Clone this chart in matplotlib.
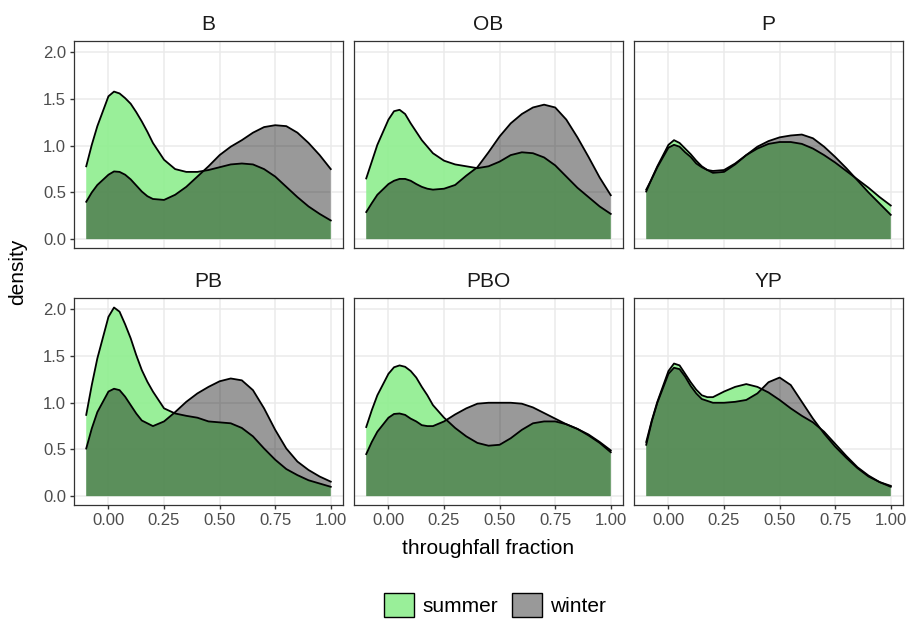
"""
Density of throughfall fraction per site, summer vs winter (facet grid 2x3)
Values read off the reference figure
"""
import matplotlib
matplotlib.use('Agg')
import matplotlib.pyplot as plt
from matplotlib.patches import Patch

plt.rcParams['font.family'] = ['Liberation Sans', 'DejaVu Sans']

# ---------------------------------------------------------
# DATA
# ---------------------------------------------------------
x_grid = [-0.1, -0.075, -0.05, 0.0, 0.025, 0.05, 0.075, 0.1, 0.125, 0.15, 0.175, 0.2,
          0.25, 0.3, 0.35, 0.4, 0.45, 0.5, 0.55, 0.6, 0.65, 0.7, 0.75, 0.8, 0.85,
          0.9, 0.95, 1.0]

sites = ['B', 'OB', 'P', 'PB', 'PBO', 'YP']
seasons = ['summer', 'winter']

b_summer = [0.78, 1.01, 1.21, 1.53, 1.58, 1.56, 1.51, 1.45, 1.36, 1.26, 1.15, 1.03,
            0.85, 0.75, 0.72, 0.72, 0.74, 0.77, 0.80, 0.81, 0.80, 0.75, 0.67, 0.56,
            0.45, 0.35, 0.27, 0.20]
b_winter = [0.40, 0.50, 0.58, 0.69, 0.725, 0.72, 0.69, 0.64, 0.575, 0.51, 0.46, 0.43,
            0.42, 0.475, 0.56, 0.67, 0.78, 0.90, 0.99, 1.06, 1.14, 1.20, 1.22, 1.21,
            1.14, 1.03, 0.90, 0.75]

ob_summer = [0.65, 0.83, 1.01, 1.28, 1.37, 1.385, 1.34, 1.24, 1.15, 1.06, 0.99, 0.92,
             0.84, 0.80, 0.78, 0.76, 0.78, 0.83, 0.90, 0.93, 0.92, 0.875, 0.79, 0.67,
             0.55, 0.45, 0.35, 0.27]
ob_winter = [0.29, 0.385, 0.475, 0.59, 0.625, 0.645, 0.645, 0.625, 0.59, 0.56, 0.54, 0.53,
             0.54, 0.58, 0.68, 0.77, 0.93, 1.10, 1.24, 1.34, 1.41, 1.44, 1.41, 1.28,
             1.09, 0.88, 0.66, 0.47]

p_summer = [0.51, 0.65, 0.78, 1.01, 1.06, 1.03, 0.97, 0.91, 0.84, 0.78, 0.74, 0.71,
            0.72, 0.80, 0.90, 0.97, 1.02, 1.04, 1.04, 1.02, 0.97, 0.90, 0.82, 0.73,
            0.64, 0.55, 0.45, 0.36]
p_winter = [0.53, 0.645, 0.77, 0.98, 1.01, 0.99, 0.93, 0.88, 0.81, 0.77, 0.74, 0.73,
            0.74, 0.81, 0.90, 0.99, 1.05, 1.09, 1.11, 1.12, 1.08, 0.99, 0.88, 0.76,
            0.63, 0.50, 0.38, 0.26]

pb_summer = [0.87, 1.19, 1.475, 1.92, 2.02, 1.975, 1.84, 1.69, 1.51, 1.35, 1.225, 1.12,
             0.94, 0.885, 0.86, 0.84, 0.80, 0.79, 0.78, 0.73, 0.64, 0.51, 0.39, 0.29,
             0.225, 0.17, 0.135, 0.10]
pb_winter = [0.51, 0.725, 0.90, 1.12, 1.15, 1.135, 1.065, 0.975, 0.885, 0.81, 0.78, 0.75,
             0.80, 0.90, 1.01, 1.10, 1.17, 1.23, 1.26, 1.24, 1.135, 0.94, 0.71, 0.51,
             0.37, 0.28, 0.21, 0.155]

pbo_summer = [0.74, 0.92, 1.08, 1.31, 1.38, 1.40, 1.385, 1.34, 1.27, 1.17, 1.08, 0.975,
              0.84, 0.73, 0.64, 0.57, 0.54, 0.55, 0.62, 0.71, 0.78, 0.80, 0.80, 0.77,
              0.72, 0.65, 0.57, 0.47]
pbo_winter = [0.45, 0.58, 0.69, 0.84, 0.88, 0.885, 0.87, 0.83, 0.80, 0.76, 0.75, 0.75,
              0.80, 0.875, 0.94, 0.99, 1.00, 1.00, 1.00, 0.99, 0.95, 0.89, 0.83, 0.77,
              0.72, 0.66, 0.58, 0.49]

yp_summer = [0.58, 0.81, 1.01, 1.34, 1.42, 1.40, 1.31, 1.22, 1.14, 1.08, 1.06, 1.06,
             1.12, 1.17, 1.20, 1.17, 1.11, 1.03, 0.94, 0.86, 0.79, 0.69, 0.56, 0.43,
             0.31, 0.22, 0.15, 0.10]
yp_winter = [0.55, 0.80, 1.00, 1.31, 1.375, 1.36, 1.28, 1.18, 1.10, 1.04, 1.02, 1.00,
             1.00, 1.01, 1.03, 1.10, 1.22, 1.27, 1.19, 1.01, 0.83, 0.67, 0.53, 0.41,
             0.30, 0.21, 0.15, 0.11]

x_ticks = [0.0, 0.25, 0.5, 0.75, 1.0]
x_ticklabels = ['0.00', '0.25', '0.50', '0.75', '1.00']
y_ticks = [0.0, 0.5, 1.0, 1.5, 2.0]
y_ticklabels = ['0.0', '0.5', '1.0', '1.5', '2.0']

densities = {
    'B': (b_summer, b_winter),
    'OB': (ob_summer, ob_winter),
    'P': (p_summer, p_winter),
    'PB': (pb_summer, pb_winter),
    'PBO': (pbo_summer, pbo_winter),
    'YP': (yp_summer, yp_winter),
}

# ---------------------------------------------------------
# STYLE
# ---------------------------------------------------------
fills = {
    'summer': (0.565, 0.933, 0.565, 0.92),   # lightgreen
    'winter': (0.0, 0.0, 0.0, 0.4),           # black, alpha 0.4
}

W, H = 922, 621
fig = plt.figure(figsize=(W / 100, H / 100), dpi=100)

panel_left = [74, 354, 634]
panel_top = [40.7, 297.7]
panel_w, panel_h = 269, 207.3

for i, site in enumerate(sites):
    row, col = divmod(i, 3)
    ax = fig.add_axes([panel_left[col] / W,
                       1 - (panel_top[row] + panel_h) / H,
                       panel_w / W, panel_h / H])
    ax.set_xlim(-0.155, 1.055)
    ax.set_ylim(-0.095, 2.125)

    ax.set_xticks(x_ticks)
    ax.set_yticks(y_ticks)
    ax.grid(True, color='#EBEBEB', linewidth=1.1)
    ax.set_axisbelow(True)

    for season, vals in zip(seasons, densities[site]):
        ax.fill_between(x_grid, 0, vals, facecolor=fills[season], edgecolor='none',
                        zorder=2)
        ax.plot(x_grid, vals, color='black', linewidth=1.3, zorder=3,
                solid_joinstyle='round')

    for sp in ax.spines.values():
        sp.set_color('#333333')
        sp.set_linewidth(0.9)

    ax.tick_params(colors='#333333', labelcolor='#4D4D4D', labelsize=12,
                   length=2.6, width=1.0, pad=3)
    if col == 0:
        ax.set_yticklabels(y_ticklabels)
    else:
        ax.tick_params(axis='y', length=0, labelleft=False)
    if row == 1:
        ax.set_xticklabels(x_ticklabels)
    else:
        ax.tick_params(axis='x', length=0, labelbottom=False)

    ax.set_title(site, fontsize=15, color='#1A1A1A', pad=8)

fig.text(18 / W, 1 - 272 / H, 'density', rotation=90, fontsize=15,
         ha='center', va='center', color='black')
fig.text(488 / W, 1 - 548 / H, 'throughfall fraction', fontsize=15,
         ha='center', va='center', color='black')

handles = [Patch(facecolor=fills[s], edgecolor='black', linewidth=1.0) for s in seasons]
fig.legend(handles, seasons, loc='center', bbox_to_anchor=(495 / W, 1 - 605 / H),
           ncol=2, frameon=False, fontsize=15, handlelength=1.44, handleheight=1.44,
           handletextpad=0.4, columnspacing=0.7)

fig.savefig('out.png', dpi=100)
